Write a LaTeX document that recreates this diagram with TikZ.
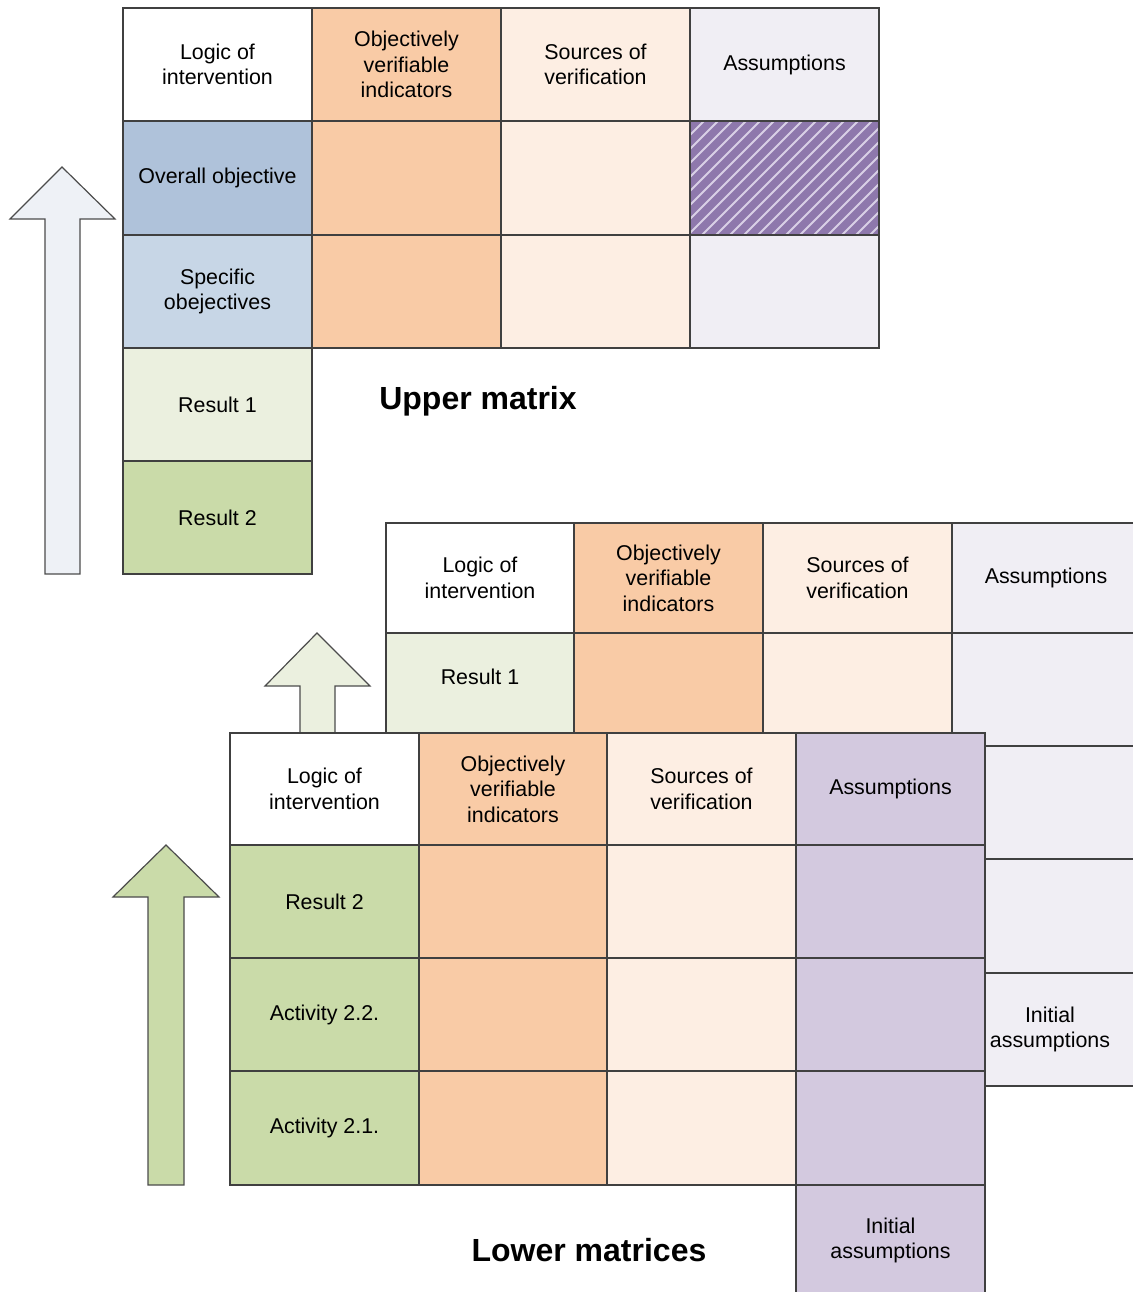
\documentclass[tikz,border=0pt]{standalone}
\usepackage{fontspec}
\setmainfont{Liberation Sans}
\definecolor{ovi}{HTML}{F9CBA6}
\definecolor{sov}{HTML}{FDEEE3}
\definecolor{asl}{HTML}{F0EEF4}
\definecolor{bluedk}{HTML}{AFC2DA}
\definecolor{bluelt}{HTML}{C7D6E6}
\definecolor{greenlt}{HTML}{EBF0DF}
\definecolor{greendk}{HTML}{CADBA9}
\definecolor{purp}{HTML}{D3C9DF}
\definecolor{hatchbg}{HTML}{8E78AC}
\definecolor{hatchln}{HTML}{D8D0E6}
\definecolor{arrowlt}{HTML}{EEF1F6}
\begin{document}
\begin{tikzpicture}[x=0.5pt,y=-0.5pt,
  cell/.style={draw=black!75, line width=0.6pt},
  lbl/.style={align=center, font=\fontsize{10.7}{12.8}\selectfont, inner sep=0pt},
  title/.style={font=\bfseries\fontsize{16}{19}\selectfont, inner sep=0pt},
  arrowshape/.style={draw=black!70, line width=0.6pt, line join=miter}]
\useasboundingbox (0,0) rectangle (1133,1292);

% ---------- upper arrow
\draw[arrowshape, fill=arrowlt] (45,574) -- (45,219) -- (10,219) -- (62,167) -- (115,219) -- (80,219) -- (80,574) -- cycle;

% ---------- upper matrix
\draw[cell, fill=white] (123,8) rectangle node[lbl] (u11) {Logic of\\intervention} (312,121);
\draw[cell, fill=ovi] (312,8) rectangle node[lbl] (u12) {Objectively\\verifiable\\indicators} (501,121);
\draw[cell, fill=sov] (501,8) rectangle node[lbl] (u13) {Sources of\\verification} (690,121);
\draw[cell, fill=asl] (690,8) rectangle node[lbl] (u14) {Assumptions} (879,121);

\draw[cell, fill=bluedk] (123,121) rectangle node[lbl] (u21) {Overall objective} (312,235);
\draw[cell, fill=ovi] (312,121) rectangle (501,235);
\draw[cell, fill=sov] (501,121) rectangle (690,235);
\fill[hatchbg] (690,121) rectangle (879,235);
\begin{scope}
  \clip (690,121) rectangle (879,235);
  \foreach \i in {562,576,...,890}
    \draw[hatchln, line width=0.9pt] (\i,235) -- ++(120,-120);
\end{scope}
\draw[cell] (690,121) rectangle (879,235);

\draw[cell, fill=bluelt] (123,235) rectangle node[lbl] (u31) {Specific\\obejectives} (312,348);
\draw[cell, fill=ovi] (312,235) rectangle (501,348);
\draw[cell, fill=sov] (501,235) rectangle (690,348);
\draw[cell, fill=asl] (690,235) rectangle (879,348);

\draw[cell, fill=greenlt] (123,348) rectangle node[lbl] (u41) {Result 1} (312,461);
\draw[cell, fill=greendk] (123,461) rectangle node[lbl] (u51) {Result 2} (312,574);

\node[title] (upper) at (478,401) {Upper matrix};

% ---------- middle arrow
\draw[arrowshape, fill=greenlt] (300,733) -- (300,686) -- (265,686) -- (317,633) -- (370,686) -- (335,686) -- (335,733);

% ---------- middle matrix
\draw[cell, fill=white] (386,523) rectangle node[lbl] (m11) {Logic of\\intervention} (574,633);
\draw[cell, fill=ovi] (574,523) rectangle node[lbl] (m12) {Objectively\\verifiable\\indicators} (763,633);
\draw[cell, fill=sov] (763,523) rectangle node[lbl] (m13) {Sources of\\verification} (952,633);
\draw[cell, fill=asl] (952,523) rectangle node[lbl] (m14) {Assumptions} (1140,633);

\draw[cell, fill=greenlt] (386,633) rectangle (574,733);
\node[lbl] (m21) at (480,677) {Result 1};
\draw[cell, fill=ovi] (574,633) rectangle (763,733);
\draw[cell, fill=sov] (763,633) rectangle (952,733);
\draw[cell, fill=asl] (952,633) rectangle (1140,746);
\draw[cell, fill=asl] (952,746) rectangle (1140,859);
\draw[cell, fill=asl] (952,859) rectangle (1140,973);
\draw[cell, fill=asl] (952,973) rectangle node[lbl, xshift=2pt] (m64) {Initial\\assumptions} (1140,1086);

% ---------- front matrix
\draw[cell, fill=white] (230,733) rectangle node[lbl] (f11) {Logic of\\intervention} (419,845);
\draw[cell, fill=ovi] (419,733) rectangle node[lbl] (f12) {Objectively\\verifiable\\indicators} (607,845);
\draw[cell, fill=sov] (607,733) rectangle node[lbl] (f13) {Sources of\\verification} (796,845);
\draw[cell, fill=purp] (796,733) rectangle node[lbl] (f14) {Assumptions} (985,845);

\draw[cell, fill=greendk] (230,845) rectangle node[lbl] (f21) {Result 2} (419,958);
\draw[cell, fill=ovi] (419,845) rectangle (607,958);
\draw[cell, fill=sov] (607,845) rectangle (796,958);
\draw[cell, fill=purp] (796,845) rectangle (985,958);

\draw[cell, fill=greendk] (230,958) rectangle node[lbl] (f31) {Activity 2.2.} (419,1071);
\draw[cell, fill=ovi] (419,958) rectangle (607,1071);
\draw[cell, fill=sov] (607,958) rectangle (796,1071);
\draw[cell, fill=purp] (796,958) rectangle (985,1071);

\draw[cell, fill=greendk] (230,1071) rectangle node[lbl] (f41) {Activity 2.1.} (419,1185);
\draw[cell, fill=ovi] (419,1071) rectangle (607,1185);
\draw[cell, fill=sov] (607,1071) rectangle (796,1185);
\draw[cell, fill=purp] (796,1071) rectangle (985,1185);

\draw[cell, fill=purp] (796,1185) rectangle node[lbl] (f54) {Initial\\assumptions} (985,1296);

% ---------- front arrow
\draw[arrowshape, fill=greendk] (148,1185) -- (148,897) -- (113,897) -- (166,845) -- (219,897) -- (184,897) -- (184,1185) -- cycle;

\node[title] (lower) at (589,1250) {Lower matrices};
\end{tikzpicture}
\end{document}
